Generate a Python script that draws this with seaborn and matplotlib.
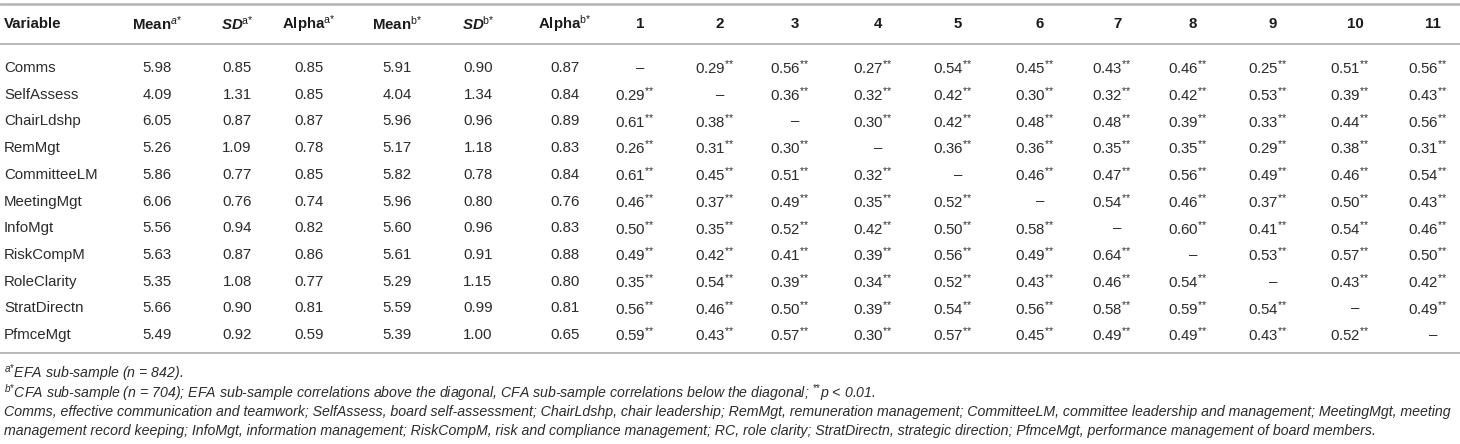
import matplotlib
matplotlib.use("Agg")
import matplotlib.pyplot as plt
import seaborn as sns
import pandas as pd

# --- Data ---
variables = ["Comms", "SelfAssess", "ChairLdshp", "RemMgt", "CommitteeLM", "MeetingMgt",
             "InfoMgt", "RiskCompM", "RoleClarity", "StratDirectn", "PfmceMgt"]
mean_a = [5.98, 4.09, 6.05, 5.26, 5.86, 6.06, 5.56, 5.63, 5.35, 5.66, 5.49]
sd_a = [0.85, 1.31, 0.87, 1.09, 0.77, 0.76, 0.94, 0.87, 1.08, 0.90, 0.92]
alpha_a = [0.85, 0.85, 0.87, 0.78, 0.85, 0.74, 0.82, 0.86, 0.77, 0.81, 0.59]
mean_b = [5.91, 4.04, 5.96, 5.17, 5.82, 5.96, 5.60, 5.61, 5.29, 5.59, 5.39]
sd_b = [0.90, 1.34, 0.96, 1.18, 0.78, 0.80, 0.96, 0.91, 1.15, 0.99, 1.00]
alpha_b = [0.87, 0.84, 0.89, 0.83, 0.84, 0.76, 0.83, 0.88, 0.80, 0.81, 0.65]

# correlations, None on the diagonal
corr = [
    [None, 0.29, 0.56, 0.27, 0.54, 0.45, 0.43, 0.46, 0.25, 0.51, 0.56],
    [0.29, None, 0.36, 0.32, 0.42, 0.30, 0.32, 0.42, 0.53, 0.39, 0.43],
    [0.61, 0.38, None, 0.30, 0.42, 0.48, 0.48, 0.39, 0.33, 0.44, 0.56],
    [0.26, 0.31, 0.30, None, 0.36, 0.36, 0.35, 0.35, 0.29, 0.38, 0.31],
    [0.61, 0.45, 0.51, 0.32, None, 0.46, 0.47, 0.56, 0.49, 0.46, 0.54],
    [0.46, 0.37, 0.49, 0.35, 0.52, None, 0.54, 0.46, 0.37, 0.50, 0.43],
    [0.50, 0.35, 0.52, 0.42, 0.50, 0.58, None, 0.60, 0.41, 0.54, 0.46],
    [0.49, 0.42, 0.41, 0.39, 0.56, 0.49, 0.64, None, 0.53, 0.57, 0.50],
    [0.35, 0.54, 0.39, 0.34, 0.52, 0.43, 0.46, 0.54, None, 0.43, 0.42],
    [0.56, 0.46, 0.50, 0.39, 0.54, 0.56, 0.58, 0.59, 0.54, None, 0.49],
    [0.59, 0.43, 0.57, 0.30, 0.57, 0.45, 0.49, 0.49, 0.43, 0.52, None],
]

headers = ["Variable", r"Mean$^{\mathit{a}{*}}$", r"$\mathbfit{SD}^{\mathrm{a}{*}}$", r"Alpha$^{\mathrm{a}{*}}$",
           r"Mean$^{\mathrm{b}{*}}$", r"$\mathbfit{SD}^{\mathrm{b}{*}}$", r"Alpha$^{\mathrm{b}{*}}$"] + \
          [str(i) for i in range(1, 12)]

footnotes = [
    r"$^{a{*}}$EFA sub-sample (n = 842).",
    r"$^{b{*}}$CFA sub-sample (n = 704); EFA sub-sample correlations above the diagonal, "
    r"CFA sub-sample correlations below the diagonal; $^{{*}{*}}$p < 0.01.",
    "Comms, effective communication and teamwork; SelfAssess, board self-assessment; ChairLdshp, chair leadership; "
    "RemMgt, remuneration management; CommitteeLM, committee leadership and management; MeetingMgt, meeting",
    "management record keeping; InfoMgt, information management; RiskCompM, risk and compliance management; "
    "RC, role clarity; StratDirectn, strategic direction; PfmceMgt, performance management of board members.",
]

# --- Layout (pixel space) ---
W, H = 1460, 444
col_x = [4, 157, 237, 309, 397, 478, 565, 640, 720, 795, 878, 958, 1040, 1117, 1193, 1273, 1355, 1433]
y_header = 24
y_row0 = 68
row_step = 26.7
rule_color = "#b3b3b3"
text_color = "#2b2b2b"

sns.set_theme(style="white")
plt.rcParams.update({
    "font.family": ["Liberation Sans", "DejaVu Sans"],
    "mathtext.fontset": "custom",
    "mathtext.rm": "Liberation Sans",
    "mathtext.it": "Liberation Sans:italic",
    "mathtext.bf": "Liberation Sans:bold",
    "mathtext.bfit": "Liberation Sans:italic:bold",
})

df = pd.DataFrame({"variable": variables, "mean_a": mean_a, "sd_a": sd_a, "alpha_a": alpha_a,
                   "mean_b": mean_b, "sd_b": sd_b, "alpha_b": alpha_b})

fig = plt.figure(figsize=(W / 100, H / 100), dpi=100)
ax = fig.add_axes([0, 0, 1, 1])
ax.set_xlim(0, W)
ax.set_ylim(H, 0)
ax.axis("off")

# rules
ax.axhline(4, color=rule_color, lw=1.8)
ax.axhline(44, color=rule_color, lw=1.3)
ax.axhline(353, color=rule_color, lw=1.3)

# header
for j, h in enumerate(headers):
    ax.text(col_x[j], y_header, h, ha="left" if j == 0 else "center", va="center",
            fontsize=10.8, fontweight="bold", color="#1a1a1a")

# body
for i, row in df.iterrows():
    y = y_row0 + i * row_step
    ax.text(col_x[0], y, row["variable"], ha="left", va="center", fontsize=10.8, color=text_color)
    for j, key in enumerate(["mean_a", "sd_a", "alpha_a", "mean_b", "sd_b", "alpha_b"], start=1):
        ax.text(col_x[j], y, f"{row[key]:.2f}", ha="center", va="center", fontsize=10.8, color=text_color)
    for k, v in enumerate(corr[i]):
        x = col_x[7 + k]
        if v is None:
            ax.text(x, y, "\u2013", ha="center", va="center", fontsize=10.8, color=text_color)
        else:
            ax.text(x - 5, y, f"{v:.2f}" + r"$^{{*}{*}}$", ha="center", va="center",
                    fontsize=10.8, color=text_color)

# footnotes
for fy, note in zip([373, 393, 412, 431], footnotes):
    ax.text(4, fy, note, ha="left", va="center", fontsize=10.2, fontstyle="italic", color=text_color)

fig.savefig("out.png", dpi=100)
